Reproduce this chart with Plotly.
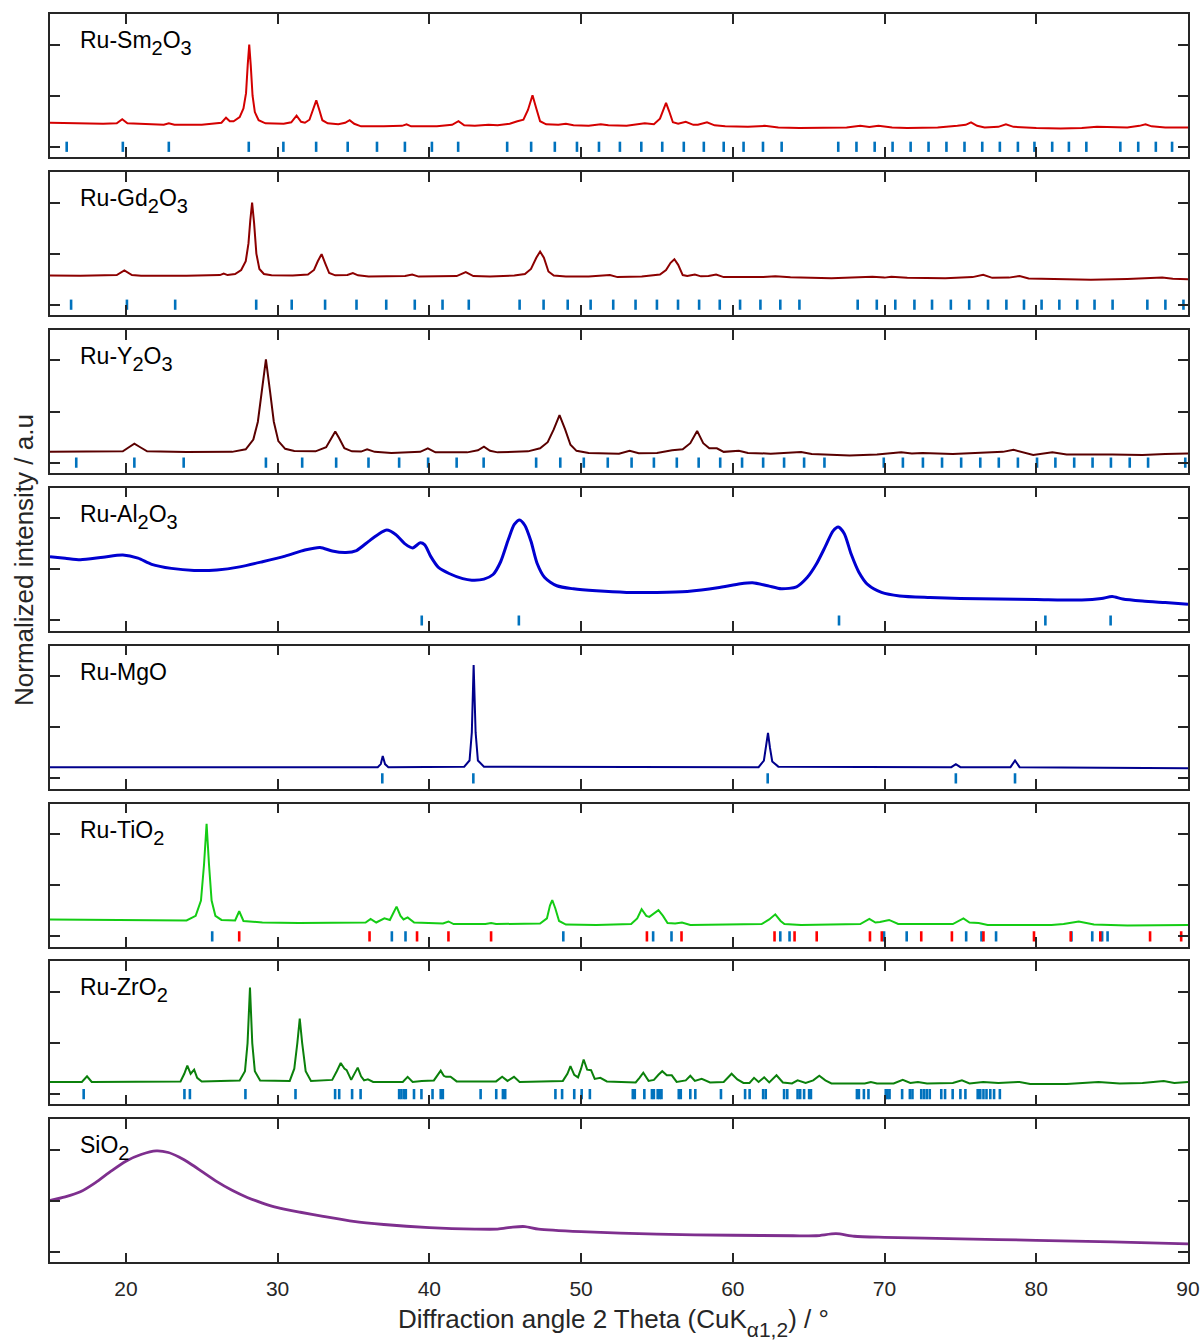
import plotly.graph_objects as go

# ---------------- data ----------------
X_TICKS = [20, 30, 40, 50, 60, 70, 80, 90]
Y_TICKS = [0, 1, 2]

S = "<span style='font-size:20px;baseline-shift:-7px'>{}</span>"
LABELS = ["Ru-Sm" + S.format(2) + "O" + S.format(3), "Ru-Gd" + S.format(2) + "O" + S.format(3),
          "Ru-Y" + S.format(2) + "O" + S.format(3), "Ru-Al" + S.format(2) + "O" + S.format(3),
          "Ru-MgO", "Ru-TiO" + S.format(2), "Ru-ZrO" + S.format(2), "SiO" + S.format(2)]

SM2O3 = [(15.0,0.47),(16.5,0.46),(18.5,0.45),(19.4,0.46),(19.76,0.54),(20.1,0.46),(21.5,0.44),(22.5,0.43),
         (22.83,0.46),(23.2,0.43),(25.0,0.43),(25.9,0.45),(26.3,0.47),(26.6,0.57),(26.85,0.50),(27.1,0.50),
         (27.5,0.58),(27.75,0.75),(27.92,1.05),(28.03,1.6),(28.13,2.0),(28.23,1.6),(28.35,1.0),(28.5,0.68),
         (28.75,0.52),(29.2,0.46),(30.4,0.45),(30.9,0.48),(31.25,0.61),(31.55,0.49),(31.8,0.47),(32.1,0.53),
         (32.35,0.72),(32.55,0.91),(32.75,0.72),(32.95,0.52),(33.3,0.46),(34.0,0.44),(34.45,0.47),(34.75,0.52),
         (35.05,0.45),(35.5,0.40),(37.0,0.40),(38.2,0.41),(38.5,0.44),(38.8,0.40),(40.5,0.40),(41.5,0.43),
         (41.92,0.50),(42.3,0.42),(43.0,0.41),(43.9,0.43),(44.5,0.42),(45.3,0.45),(45.8,0.50),(46.2,0.53),
         (46.5,0.72),(46.8,1.01),(47.05,0.75),(47.3,0.50),(47.7,0.44),(48.5,0.43),(49.0,0.45),(49.5,0.42),
         (50.5,0.41),(51.3,0.44),(51.8,0.42),(53.0,0.41),(54.2,0.46),(54.8,0.44),(55.2,0.55),(55.45,0.75),
         (55.6,0.86),(55.8,0.70),(56.05,0.48),(56.4,0.45),(56.9,0.49),(57.4,0.43),(57.7,0.43),(58.3,0.48),
         (58.8,0.42),(59.5,0.40),(61.0,0.39),(62.1,0.41),(63.0,0.38),(64.4,0.37),(66.0,0.38),(67.5,0.38),
         (68.4,0.41),(69.0,0.39),(69.6,0.41),(70.5,0.38),(71.5,0.37),(73.5,0.38),(74.8,0.41),(75.35,0.43),
         (75.7,0.48),(76.1,0.41),(76.6,0.38),(77.5,0.39),(78.0,0.44),(78.5,0.39),(80.0,0.37),(81.6,0.36),
         (83.0,0.37),(84.0,0.39),(86.0,0.38),(86.8,0.41),(87.2,0.44),(87.6,0.40),(88.5,0.38),(90.0,0.38)]

GD2O3 = [(15.0,0.57),(17.0,0.565),(19.4,0.58),(19.9,0.67),(20.4,0.58),(21.0,0.565),(24.0,0.565),(26.2,0.58),
         (26.45,0.61),(26.7,0.58),(27.2,0.60),(27.6,0.68),(27.9,0.85),(28.08,1.2),(28.2,1.65),(28.32,2.0),
         (28.45,1.6),(28.6,1.0),(28.8,0.7),(29.1,0.6),(29.6,0.575),(31.0,0.57),(32.0,0.59),(32.4,0.68),
         (32.65,0.85),(32.9,0.99),(33.15,0.80),(33.4,0.62),(33.8,0.575),(34.6,0.58),(34.96,0.62),(35.3,0.575),
         (36.0,0.55),(38.4,0.56),(38.87,0.59),(39.3,0.55),(41.8,0.56),(42.4,0.64),(42.9,0.56),(44.0,0.55),
         (45.6,0.57),(46.3,0.60),(46.7,0.70),(47.05,0.92),(47.3,1.04),(47.55,0.92),(47.85,0.65),(48.2,0.57),
         (49.0,0.55),(50.5,0.55),(51.9,0.58),(52.4,0.54),(54.0,0.55),(55.2,0.59),(55.6,0.68),(55.9,0.82),
         (56.15,0.89),(56.4,0.78),(56.7,0.58),(57.0,0.56),(57.5,0.59),(57.9,0.555),(58.4,0.56),(58.9,0.59),
         (59.4,0.54),(60.5,0.535),(62.0,0.54),(62.8,0.555),(63.8,0.535),(66.5,0.52),(68.5,0.53),(69.2,0.545),
         (70.0,0.53),(70.45,0.545),(71.5,0.525),(74.0,0.52),(75.8,0.54),(76.5,0.585),(77.1,0.525),(78.2,0.53),
         (78.9,0.56),(79.5,0.515),(82.0,0.50),(83.6,0.49),(86.0,0.505),(88.3,0.53),(89.0,0.51),(90.0,0.50)]

Y2O3 = [(15.0,0.21),(18.0,0.21),(19.8,0.22),(20.2,0.30),(20.56,0.37),(20.95,0.30),(21.4,0.22),(24.0,0.205),
        (27.0,0.21),(27.9,0.26),(28.4,0.45),(28.7,0.8),(28.95,1.4),(29.23,2.02),(29.5,1.4),(29.75,0.8),
        (30.05,0.42),(30.5,0.27),(31.1,0.225),(32.5,0.22),(33.2,0.30),(33.55,0.48),(33.8,0.61),(34.05,0.48),
        (34.4,0.28),(34.9,0.22),(35.5,0.215),(35.9,0.26),(36.4,0.21),(37.5,0.19),(39.4,0.21),(39.9,0.28),
        (40.4,0.20),(42.5,0.20),(43.2,0.24),(43.6,0.31),(44.0,0.23),(44.5,0.20),(46.5,0.22),(47.3,0.28),
        (47.8,0.40),(48.2,0.65),(48.58,0.93),(48.95,0.65),(49.3,0.35),(49.7,0.23),(50.5,0.19),(52.5,0.175),
        (53.2,0.23),(53.8,0.185),(55.0,0.19),(56.0,0.24),(56.7,0.26),(57.2,0.38),(57.65,0.62),(58.05,0.38),
        (58.45,0.28),(58.95,0.28),(59.4,0.21),(60.4,0.23),(61.0,0.19),(62.5,0.175),(64.5,0.205),(65.2,0.17),
        (67.7,0.14),(69.5,0.16),(71.1,0.20),(71.8,0.18),(72.5,0.19),(74.5,0.17),(77.0,0.19),(77.8,0.21),
        (78.5,0.25),(79.0,0.21),(79.8,0.15),(81.06,0.20),(82.0,0.16),(85.0,0.16),(87.0,0.15),(88.5,0.17),
        (90.0,0.18)]

AL2O3 = [(15.0,1.25),(16.0,1.22),(17.0,1.19),(18.5,1.24),(19.8,1.28),(20.8,1.22),(21.7,1.10),(23.0,1.02),
         (24.5,0.98),(26.0,0.99),(27.5,1.05),(29.0,1.15),(30.5,1.26),(31.8,1.38),(32.8,1.43),(33.6,1.36),
         (34.5,1.33),(35.2,1.37),(36.0,1.55),(36.6,1.68),(37.2,1.77),(37.8,1.68),(38.4,1.50),(38.9,1.42),
         (39.4,1.52),(39.7,1.48),(40.1,1.25),(40.6,1.04),(41.3,0.92),(42.2,0.82),(42.8,0.79),(43.6,0.81),
         (44.2,0.90),(44.7,1.15),(45.2,1.58),(45.6,1.88),(45.95,1.97),(46.3,1.86),(46.7,1.55),(47.1,1.12),
         (47.6,0.84),(48.4,0.68),(49.5,0.62),(51.0,0.58),(53.0,0.55),(55.0,0.55),(57.0,0.57),(59.0,0.64),
         (60.5,0.72),(61.3,0.74),(62.3,0.68),(63.2,0.62),(64.2,0.66),(64.9,0.84),(65.5,1.10),(66.1,1.45),
         (66.6,1.75),(66.95,1.83),(67.35,1.70),(67.8,1.30),(68.3,0.95),(68.9,0.70),(69.8,0.55),(71.0,0.48),
         (73.0,0.45),(75.0,0.43),(77.5,0.42),(80.0,0.41),(83.0,0.40),(84.3,0.43),(85.0,0.47),(85.7,0.42),
         (87.0,0.38),(88.5,0.35),(90.0,0.32)]

MGO = [(15.0,0.22),(30.0,0.22),(36.6,0.22),(36.8,0.28),(36.93,0.44),(37.08,0.28),(37.3,0.22),(42.3,0.23),
       (42.65,0.35),(42.8,0.9),(42.92,2.22),(43.05,0.9),(43.2,0.35),(43.6,0.23),(61.7,0.22),(62.05,0.35),
       (62.2,0.65),(62.32,0.89),(62.45,0.6),(62.6,0.33),(63.0,0.23),(74.4,0.22),(74.7,0.28),(75.0,0.22),
       (78.3,0.22),(78.6,0.35),(78.9,0.22),(90.0,0.20)]

TIO2 = [(15.0,0.33),(20.0,0.32),(24.0,0.31),(24.6,0.40),(24.95,0.7),(25.15,1.4),(25.32,2.2),(25.48,1.4),
        (25.65,0.7),(25.9,0.40),(26.3,0.32),(27.2,0.31),(27.47,0.49),(27.75,0.30),(29.0,0.27),(31.4,0.26),
        (35.8,0.27),(36.13,0.34),(36.5,0.27),(37.04,0.35),(37.4,0.32),(37.62,0.45),(37.84,0.58),(38.1,0.40),
        (38.3,0.33),(38.57,0.37),(39.0,0.27),(40.9,0.25),(41.26,0.29),(41.6,0.24),(43.7,0.24),(44.07,0.26),
        (44.4,0.24),(47.3,0.25),(47.75,0.35),(47.95,0.60),(48.1,0.71),(48.3,0.55),(48.55,0.30),(49.0,0.23),
        (51.0,0.22),(53.3,0.24),(53.7,0.35),(53.99,0.53),(54.3,0.40),(54.5,0.38),(54.8,0.45),(55.1,0.51),
        (55.4,0.40),(55.7,0.26),(56.2,0.25),(56.65,0.27),(57.2,0.22),(61.9,0.24),(62.4,0.33),(62.8,0.43),
        (63.15,0.30),(63.4,0.24),(64.5,0.22),(68.4,0.24),(69.0,0.34),(69.4,0.27),(69.7,0.28),(70.3,0.32),
        (70.9,0.24),(74.5,0.24),(75.2,0.35),(75.6,0.27),(76.2,0.26),(76.8,0.22),(81.0,0.22),(81.8,0.24),
        (82.8,0.29),(83.8,0.23),(86.0,0.21),(90.0,0.22)]

ZRO2 = [(15.0,0.24),(17.1,0.24),(17.44,0.35),(17.75,0.24),(23.6,0.25),(23.85,0.40),(24.05,0.56),(24.27,0.40),
        (24.5,0.48),(24.7,0.32),(25.0,0.25),(27.5,0.27),(27.85,0.45),(28.02,1.0),(28.18,2.09),(28.33,1.0),
        (28.5,0.45),(28.85,0.27),(30.8,0.26),(31.1,0.50),(31.3,1.0),(31.46,1.48),(31.62,1.0),(31.85,0.45),
        (32.2,0.26),(33.6,0.28),(33.9,0.45),(34.16,0.61),(34.4,0.50),(34.55,0.47),(34.85,0.28),(35.05,0.38),
        (35.28,0.52),(35.5,0.35),(35.7,0.27),(35.95,0.29),(36.3,0.24),(38.25,0.24),(38.57,0.34),(38.9,0.24),
        (39.5,0.26),(40.3,0.27),(40.55,0.38),(40.75,0.46),(40.95,0.36),(41.1,0.34),(41.4,0.34),(41.8,0.25),
        (44.4,0.25),(44.8,0.34),(45.15,0.26),(45.58,0.34),(45.95,0.24),(48.8,0.26),(49.1,0.40),(49.3,0.55),
        (49.55,0.38),(49.8,0.33),(50.0,0.50),(50.17,0.68),(50.4,0.48),(50.66,0.47),(50.9,0.30),(51.27,0.32),
        (51.7,0.25),(53.6,0.23),(53.85,0.32),(54.1,0.42),(54.45,0.26),(54.8,0.28),(55.1,0.38),(55.35,0.45),
        (55.65,0.37),(55.98,0.37),(56.3,0.24),(56.9,0.27),(57.2,0.36),(57.5,0.26),(57.95,0.30),(58.5,0.23),
        (59.4,0.24),(59.7,0.34),(59.92,0.40),(60.3,0.29),(60.7,0.22),(61.1,0.22),(61.4,0.32),(61.7,0.24),
        (62.07,0.33),(62.4,0.23),(62.88,0.37),(63.3,0.23),(63.9,0.21),(64.27,0.27),(64.8,0.22),(65.3,0.27),
        (65.7,0.36),(66.1,0.27),(66.5,0.21),(68.7,0.21),(69.1,0.24),(69.5,0.21),(70.6,0.21),(71.2,0.28),
        (71.7,0.22),(72.2,0.24),(72.8,0.21),(74.5,0.22),(75.1,0.27),(75.6,0.21),(76.5,0.24),(77.5,0.22),
        (78.9,0.24),(79.6,0.20),(82.0,0.20),(84.1,0.24),(85.5,0.21),(87.0,0.22),(88.4,0.26),(89.1,0.22),
        (90.0,0.24)]

SIO2 = [(15.0,1.01),(16.0,1.08),(17.0,1.18),(18.0,1.36),(19.0,1.58),(20.0,1.78),(21.0,1.91),(22.0,1.98),
        (22.8,1.95),(23.5,1.86),(24.3,1.72),(25.0,1.58),(26.0,1.38),(27.0,1.21),(28.0,1.07),(29.0,0.96),
        (30.0,0.87),(31.5,0.78),(33.0,0.70),(35.0,0.60),(37.0,0.54),(40.0,0.48),(43.0,0.45),(44.5,0.45),
        (45.5,0.49),(46.3,0.50),(47.2,0.45),(50.0,0.40),(55.0,0.35),(60.0,0.33),(64.0,0.32),(65.5,0.32),
        (66.8,0.36),(68.0,0.31),(70.0,0.29),(75.0,0.26),(80.0,0.23),(85.0,0.20),(90.0,0.16)]

# reference reflection positions (2 theta)
SM2O3_REF = [16.1,19.8,22.83,28.1,30.38,32.54,34.62,36.55,38.39,40.17,41.9,45.13,46.71,48.27,49.73,51.18,
             52.56,53.97,55.35,56.77,58.09,59.4,60.71,61.99,63.22,66.95,68.15,69.35,70.53,71.72,72.9,74.08,
             75.27,76.44,77.6,78.79,79.88,81.05,82.15,83.3,85.54,86.72,87.88,88.95]
GD2O3_REF = [16.39,20.07,23.25,28.59,30.93,33.13,35.2,37.16,39.04,40.87,42.6,45.95,47.53,49.12,50.63,52.12,
             53.59,55.0,56.39,57.78,59.14,60.48,61.82,63.13,64.39,68.23,69.49,70.71,71.97,73.13,74.37,75.58,
             76.82,78.03,79.19,80.35,81.52,82.7,83.84,85.03,87.32,88.51,89.7]
Y2O3_REF = [16.73,20.56,23.81,29.23,31.62,33.86,35.99,38.01,39.92,41.8,43.58,47.04,48.63,50.18,51.76,53.33,
            54.8,56.31,57.75,59.17,60.61,62.0,63.38,64.7,66.04,69.95,71.21,72.53,73.79,75.05,76.31,77.53,
            78.79,80.05,81.26,82.5,83.71,84.92,86.16,87.37,89.82]
AL2O3_REF = [39.5, 45.9, 67.0, 80.6, 84.9]
MGO_REF = [36.9, 42.9, 62.3, 74.7, 78.6]
TIO2_ANATASE_REF = [25.69,37.53,38.43,48.83,54.75,55.96,63.13,63.74,69.97,71.46,75.38,76.39,77.35,82.32,
                    83.69,84.34,84.7]
TIO2_RUTILE_REF = [27.47,36.06,39.19,41.26,44.07,54.34,56.62,62.75,64.07,65.53,69.04,69.82,72.42,74.44,
                   76.52,79.85,82.27,84.22,87.5,89.55]
ZRO2_REF = [17.22,23.86,24.22,27.88,31.18,33.79,34.06,34.91,35.47,38.01,38.16,38.33,38.45,38.99,39.48,40.21,
            40.75,40.89,43.38,44.41,44.85,45.0,48.31,48.75,49.55,50.04,50.58,53.41,53.54,54.17,54.67,54.8,
            55.05,55.18,55.3,56.44,56.57,57.2,57.53,59.22,60.81,61.11,62.0,62.17,63.38,63.59,64.27,64.44,
            64.7,65.03,65.15,68.18,68.31,68.64,68.94,70.08,70.2,70.33,71.16,71.67,71.84,72.42,72.6,72.78,
            72.98,73.74,73.99,74.49,75.0,75.33,76.14,76.31,76.52,76.72,76.97,77.22,77.6]

# ---------------- styling ----------------
BLUE_REF = "#0072BD"
RED_REF = "#FF0000"
AX = "#262626"
FONT = "Liberation Sans, Arial, Helvetica, sans-serif"

panels = [
    dict(data=SM2O3, color="#d40000", width=2.0, shape="linear", refs=[(SM2O3_REF, BLUE_REF)]),
    dict(data=GD2O3, color="#8c0000", width=2.0, shape="linear", refs=[(GD2O3_REF, BLUE_REF)]),
    dict(data=Y2O3, color="#5a0000", width=2.0, shape="linear", refs=[(Y2O3_REF, BLUE_REF)]),
    dict(data=AL2O3, color="#0000d0", width=3.0, shape="spline", refs=[(AL2O3_REF, BLUE_REF)]),
    dict(data=MGO, color="#00008c", width=2.0, shape="linear", refs=[(MGO_REF, BLUE_REF)]),
    dict(data=TIO2, color="#14cc14", width=2.0, shape="linear",
         refs=[(TIO2_ANATASE_REF, BLUE_REF), (TIO2_RUTILE_REF, RED_REF)]),
    dict(data=ZRO2, color="#0b800b", width=2.0, shape="linear", refs=[(ZRO2_REF, BLUE_REF)]),
    dict(data=SIO2, color="#7E2F8E", width=2.8, shape="spline", refs=[]),
]

W, H = 1201, 1343
ML, MR, MT, MB = 50, 13, 14, 80
PLOT_H = H - MT - MB
PANEL_H = 143.0
PERIOD = 157.9

fig = go.Figure()
annotations = []
N = len(panels)
for i, p in enumerate(panels):
    n = "" if i == 0 else str(i + 1)
    top = i * PERIOD
    bot = top + PANEL_H
    dom = [max(0.0, 1 - bot / PLOT_H), 1 - top / PLOT_H]
    xs, ys = zip(*p["data"])
    line = dict(color=p["color"], width=p["width"], shape=p["shape"])
    if p["shape"] == "spline":
        line["smoothing"] = 0.7
    fig.add_trace(go.Scatter(x=list(xs), y=list(ys), mode="lines", xaxis="x" + n, yaxis="y" + n,
                             line=line, hoverinfo="skip", showlegend=False))
    for refs, col in p["refs"]:
        rx, ry = [], []
        for r in refs:
            rx += [r, r, None]
            ry += [-0.1, 0.1, None]
        fig.add_trace(go.Scatter(x=rx, y=ry, mode="lines", xaxis="x" + n, yaxis="y" + n,
                                 line=dict(color=col, width=2.6), hoverinfo="skip", showlegend=False))
    fig.layout["xaxis" + n] = dict(
        domain=[0, 1], anchor="y" + n, range=[15, 90], tickvals=X_TICKS, ticktext=[str(v) for v in X_TICKS],
        ticks="inside", ticklen=10, tickwidth=1.5, tickcolor=AX, showline=True, linewidth=1.5,
        linecolor=AX, mirror="ticks", showgrid=False, zeroline=False, showticklabels=(i == N - 1),
        tickfont=dict(family=FONT, size=21, color=AX), ticklabelstandoff=7, fixedrange=True)
    fig.layout["yaxis" + n] = dict(
        domain=dom, anchor="x" + n, range=[-0.2, 2.6], tickvals=Y_TICKS, ticks="inside", ticklen=10,
        tickwidth=1.5, tickcolor=AX, showline=True, linewidth=1.5, linecolor=AX, mirror="ticks",
        showgrid=False, zeroline=False, showticklabels=False, fixedrange=True)
    annotations.append(dict(text=LABELS[i], xref="x" + n + " domain", yref="y" + n + " domain",
                            x=28 / 1138, y=1 - 11 / PANEL_H, xanchor="left", yanchor="top",
                            showarrow=False, font=dict(family=FONT, size=23, color="black")))

annotations.append(dict(text="Diffraction angle 2 Theta (CuK<span style='font-size:21px;baseline-shift:-9px'>α1,2</span>) / °",
                        xref="paper", yref="paper",
                        x=(613 - ML) / 1138, y=-(1302 - (H - MB)) / PLOT_H, xanchor="center", yanchor="top",
                        showarrow=False, font=dict(family=FONT, size=26, color=AX)))
annotations.append(dict(text="Normalized intensity / a.u", xref="paper", yref="paper",
                        x=(24 - ML) / 1138, y=((H - MB) - 560) / PLOT_H, xanchor="center", yanchor="middle",
                        textangle=-90, showarrow=False, font=dict(family=FONT, size=26, color=AX)))

fig.update_layout(width=W, height=H, margin=dict(l=ML, r=MR, t=MT, b=MB, autoexpand=False),
                  paper_bgcolor="white", plot_bgcolor="white", annotations=annotations,
                  font=dict(family=FONT, color=AX))

fig.write_html("out.html", config={"displayModeBar": False})
